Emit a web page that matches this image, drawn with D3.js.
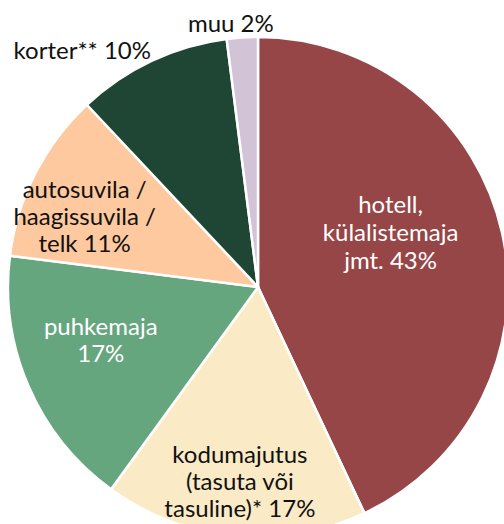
<!DOCTYPE html>
<html>
<head>
<meta charset="utf-8">
<script src="https://cdn.jsdelivr.net/npm/d3@7"></script>
<style>
  html, body { margin: 0; padding: 0; background: #fff; }
  svg { display: block; font-family: Lato, "Open Sans", sans-serif; }
</style>
</head>
<body>
<svg class="pie_plot"></svg>
<script>
var width = 504, height = 524,
    cx = 258, cy = 287, radius = 250;

// data
const categories = ["hotell, külalistemaja jmt.", "kodumajutus (tasuta või tasuline)*", "puhkemaja",
                    "autosuvila / haagissuvila / telk", "korter**", "muu"];
const shares = [43, 17, 17, 11, 10, 2];
const labelLines = [
  ["hotell,", "külalistemaja", "jmt. 43%"],
  ["kodumajutus", "(tasuta või", "tasuline)* 17%"],
  ["puhkemaja", "17%"],
  ["autosuvila /", "haagissuvila /", "telk 11%"],
  ["korter** 10%"],
  ["muu 2%"]
];

// styles
const colors = ["#964646", "#fbeac6", "#65a67f", "#fec99e", "#1f4635", "#d3c3d6"];
const textColors = ["#fff", "#111", "#fff", "#111", "#111", "#111"];
// label anchor in polar form: angle (deg, clockwise from top), distance from centre
const labelPos = [[68, 143], [185.3, 196], [251.3, 166], [292, 187], [323.3, 294], [354.1, 264]];
const lineHeight = [28, 27, 27, 27, 27, 27];

var svg = d3.select("svg.pie_plot")
  .attr("width", width)
  .attr("height", height)
  .append("g")
  .attr("transform", `translate(${cx},${cy})`);

const data = categories.map((c, i) => ({name: c, value: shares[i], i: i}));

const pie = d3.pie().sort(null).value(d => d.value);
const arc = d3.arc().innerRadius(0).outerRadius(radius);

svg.selectAll("path.slice")
  .data(pie(data))
  .join("path")
    .attr("class", "slice")
    .attr("d", arc)
    .style("fill", d => colors[d.data.i])
    .style("stroke", "#fff")
    .style("stroke-width", 2.5)
    .style("stroke-linejoin", "round");

const ang = d3.scaleLinear().domain([0, 360]).range([0, 2 * Math.PI]);

const labels = svg.selectAll("text.lbl")
  .data(data)
  .join("text")
    .attr("class", "lbl")
    .attr("text-anchor", "middle")
    .style("font-size", "24px")
    .style("fill", d => textColors[d.i])
    .attr("transform", d => {
      const a = ang(labelPos[d.i][0]), r = labelPos[d.i][1];
      return `translate(${r * Math.sin(a)},${-r * Math.cos(a)})`;
    });

labels.each(function(d) {
  const lines = labelLines[d.i], lh = lineHeight[d.i];
  const y0 = -(lines.length - 1) / 2 * lh + 8;
  d3.select(this).selectAll("tspan")
    .data(lines)
    .join("tspan")
      .attr("x", 0)
      .attr("y", (t, j) => y0 + j * lh)
      .text(t => t);
});
</script>
</body>
</html>
